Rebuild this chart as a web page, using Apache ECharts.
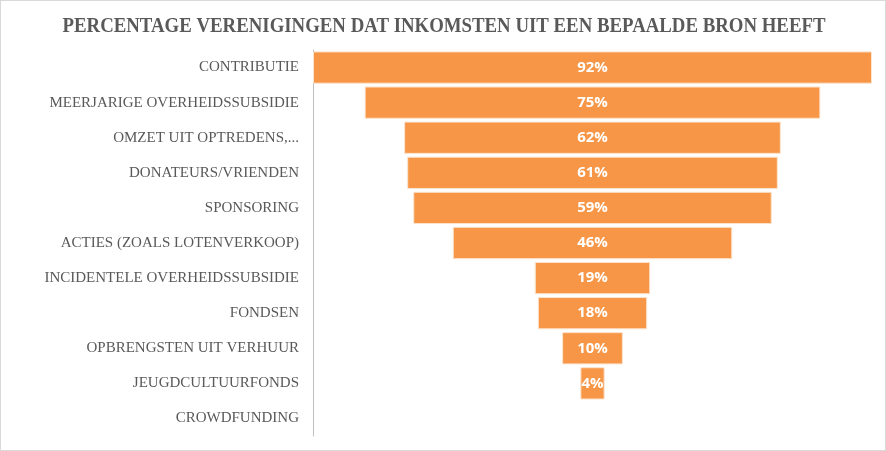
<!DOCTYPE html>
<html><head><meta charset="utf-8">
<script src="https://cdn.jsdelivr.net/npm/echarts@6/dist/echarts.min.js"></script>
<style>html,body{margin:0;padding:0;background:#fff}#c{width:886px;height:451px;box-sizing:border-box;border:1px solid #d9d9d9}</style>
</head><body><div id="c"></div>
<script>
const titleText = 'PERCENTAGE VERENIGINGEN DAT INKOMSTEN UIT EEN BEPAALDE BRON HEEFT';
const categories = ['CONTRIBUTIE','MEERJARIGE OVERHEIDSSUBSIDIE','OMZET UIT OPTREDENS,...','DONATEURS/VRIENDEN','SPONSORING','ACTIES (ZOALS LOTENVERKOOP)','INCIDENTELE OVERHEIDSSUBSIDIE','FONDSEN','OPBRENGSTEN UIT VERHUUR','JEUGDCULTUURFONDS','CROWDFUNDING'];
const values = [92, 75, 62, 61, 59, 46, 19, 18, 10, 4, 0];
const maxValue = Math.max(...values);
const offsets = values.map(v => (maxValue - v) / 2);

const chart = echarts.init(document.getElementById('c'));
chart.setOption({
  animation: false,
  graphic: [{
    type: 'text', x: 443, y: 25, scaleX: 0.855, originX: 0, originY: 0,
    style: {text: titleText, align: 'center', verticalAlign: 'middle',
      font: 'bold 22px "Liberation Serif"', fill: '#595959'}
  }],
  grid: {left: 312, right: 13, top: 49, bottom: 14, containLabel: false},
  xAxis: {type: 'value', min: 0, max: maxValue, show: false},
  yAxis: {
    type: 'category', data: categories, inverse: true,
    axisLine: {show: true, lineStyle: {color: '#bfbfbf', width: 1}},
    axisTick: {show: false},
    axisLabel: {fontFamily: 'Liberation Serif', fontSize: 15, color: '#595959', margin: 14}
  },
  series: [
    {type: 'bar', stack: 'f', data: offsets, itemStyle: {color: 'transparent'}, barWidth: '92%', silent: true},
    {type: 'bar', stack: 'f', barWidth: '92%',
     data: values.map(v => v > 0 ? v : {value: v, itemStyle: {borderWidth: 0}}),
     itemStyle: {color: '#F79646', borderColor: '#FCE4CF', borderWidth: 1},
     label: {show: true, position: 'inside', color: '#fff', fontWeight: 'bold', fontFamily: 'Open Sans', fontSize: 15,
       formatter: p => p.value > 0 ? p.value + '%' : ''}}
  ]
});
</script></body></html>
